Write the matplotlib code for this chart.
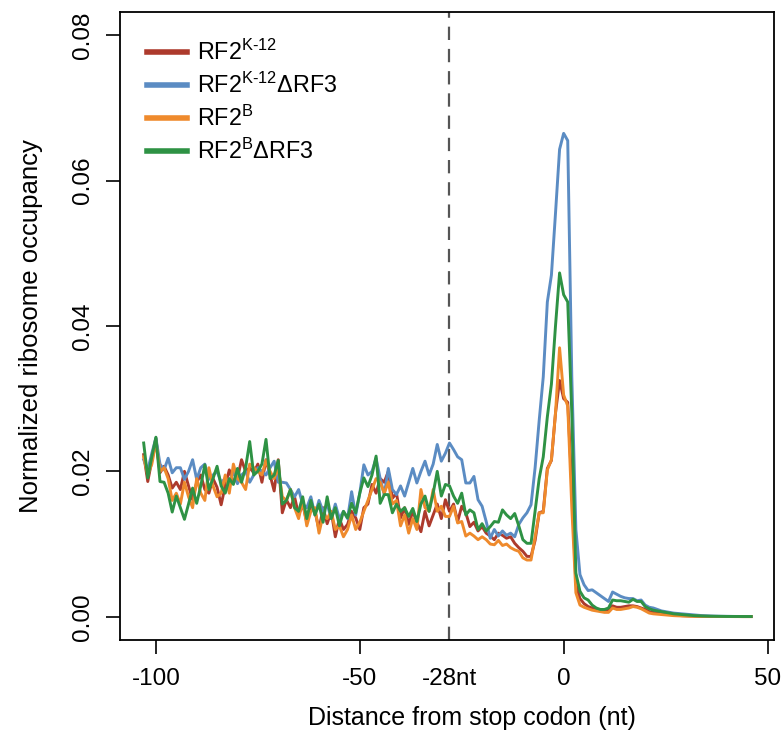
import numpy as np
import matplotlib
matplotlib.use("Agg")
import matplotlib.pyplot as plt

plt.rcParams['font.family'] = ['Liberation Sans', 'DejaVu Sans']
plt.rcParams['mathtext.fontset'] = 'custom'
plt.rcParams['mathtext.rm'] = 'Liberation Sans'
plt.rcParams['axes.unicode_minus'] = False

# position relative to stop codon (nt)
pos = np.arange(-103, 47)

# normalized ribosome occupancy, in units of 1e-3
rf2_k12 = [
    22.3, 18.6, 21.5, 24.5, 19.8, 20.7, 19.5, 17.7, 18.5, 17.5,
    20.0, 18.0, 16.1, 18.5, 19.5, 17.5, 17.0, 19.0, 17.8, 15.4,
    18.0, 20.2, 18.5, 19.0, 21.6, 20.0, 20.5, 19.8, 21.0, 18.5,
    21.6, 19.5, 17.3, 21.6, 14.3, 16.1, 15.0, 16.5, 14.0, 15.5,
    13.0, 15.5, 14.5, 12.0, 15.0, 12.8, 14.5, 11.0, 13.5, 12.0,
    12.7, 14.5, 13.6, 12.0, 15.0, 15.5, 18.2, 17.0, 19.0, 18.5,
    20.0, 16.3, 17.0, 13.6, 15.0, 12.7, 14.5, 13.0, 11.7, 14.5,
    12.5, 14.0, 15.5, 13.5, 16.1, 14.5, 15.5, 13.1, 15.2, 14.3,
    12.4, 13.0, 11.8, 12.4, 11.5, 11.1, 10.6, 11.5, 11.2, 10.8,
    11.0, 10.1, 9.5, 9.0, 8.3, 8.3, 10.5, 14.3, 14.5, 20.4,
    21.5, 28.0, 32.5, 30.0, 29.5, 18.0, 4.5, 2.5, 1.8, 1.4,
    1.2, 1.0, 0.9, 0.9, 0.9, 1.5, 1.3, 1.3, 1.4, 1.5,
    1.5, 1.4, 1.2, 1.0, 0.7, 0.6, 0.5, 0.4, 0.35, 0.3,
    0.25, 0.2, 0.15, 0.12, 0.1, 0.08, 0.07, 0.06, 0.05, 0.05,
    0.04, 0.04, 0.03, 0.03, 0.03, 0.03, 0.02, 0.02, 0.02, 0.02,
]
rf2_k12_drf3 = [
    21.6, 20.2, 22.5, 24.6, 21.0, 20.2, 21.8, 19.8, 20.5, 20.5,
    18.9, 20.0, 21.6, 18.9, 20.5, 21.0, 18.9, 19.5, 20.0, 18.5,
    19.0, 18.5, 20.0, 18.3, 19.5, 20.0, 18.5, 19.5, 20.5, 20.0,
    19.5, 20.5, 21.4, 18.5, 18.5, 18.4, 17.5, 16.5, 17.5, 15.5,
    15.0, 16.5, 14.0, 16.0, 14.5, 15.5, 13.5, 15.5, 13.5, 14.5,
    13.5, 17.2, 14.0, 17.0, 20.9, 19.5, 20.0, 21.8, 19.0, 16.8,
    20.4, 17.5, 16.8, 18.0, 16.6, 18.5, 20.4, 18.4, 20.0, 21.4,
    19.5, 21.0, 23.7, 21.4, 22.5, 23.9, 23.0, 22.0, 21.6, 18.4,
    18.4, 19.3, 16.1, 15.2, 13.1, 10.8, 12.0, 11.1, 11.8, 11.2,
    11.5, 11.0, 12.7, 13.6, 14.3, 15.4, 20.5, 27.0, 33.0, 43.3,
    47.0, 55.5, 64.3, 66.5, 65.5, 33.0, 12.0, 5.8, 4.4, 3.6,
    3.7, 3.3, 2.9, 2.5, 2.1, 3.4, 3.1, 2.8, 2.6, 2.5,
    2.5, 2.2, 2.3, 1.6, 1.3, 1.2, 1.0, 0.8, 0.7, 0.6,
    0.5, 0.45, 0.4, 0.35, 0.3, 0.25, 0.2, 0.15, 0.12, 0.1,
    0.08, 0.07, 0.06, 0.05, 0.05, 0.04, 0.04, 0.03, 0.03, 0.03,
]
rf2_b = [
    22.0, 19.5, 21.0, 24.0, 20.0, 20.5, 19.0, 16.0, 17.0, 15.5,
    18.5, 16.5, 15.0, 19.0, 17.0, 16.0, 20.5, 18.0, 16.5, 17.0,
    19.5, 17.0, 21.0, 19.0, 18.5, 17.5, 21.0, 20.5, 20.0, 19.5,
    21.5, 20.0, 19.0, 20.5, 16.5, 16.0, 17.5, 15.0, 13.5, 16.0,
    12.5, 14.5, 15.0, 11.5, 14.0, 13.5, 14.5, 12.0, 12.5, 11.0,
    12.0, 14.0, 12.0, 13.0, 14.5, 16.0, 17.5, 19.0, 18.5, 17.0,
    18.5, 15.5, 16.0, 12.5, 14.0, 11.5, 13.5, 12.0, 17.5, 15.0,
    14.5, 17.5, 14.5, 15.2, 13.8, 13.8, 15.2, 12.9, 13.1, 11.1,
    11.5, 11.1, 10.6, 11.0, 10.6, 10.0, 9.9, 10.5, 9.8, 10.0,
    9.5, 9.2, 9.0, 8.1, 7.8, 7.8, 11.0, 14.3, 14.3, 20.2,
    21.6, 28.0, 37.0, 30.5, 29.0, 15.0, 3.3, 1.6, 1.3, 1.1,
    0.9, 0.8, 0.7, 0.6, 0.6, 1.2, 1.0, 1.0, 1.1, 1.2,
    1.4, 1.3, 1.1, 0.8, 0.5, 0.4, 0.35, 0.3, 0.25, 0.2,
    0.15, 0.12, 0.1, 0.08, 0.07, 0.06, 0.05, 0.05, 0.04, 0.04,
    0.03, 0.03, 0.03, 0.03, 0.02, 0.02, 0.02, 0.02, 0.02, 0.02,
]
rf2_b_drf3 = [
    23.9, 19.1, 22.0, 24.7, 18.6, 18.5, 17.0, 14.4, 16.6, 15.0,
    13.4, 15.5, 17.7, 15.6, 18.0, 20.9, 17.5, 19.0, 20.7, 18.0,
    17.0, 19.0, 18.2, 20.4, 18.5, 20.5, 24.1, 19.5, 20.0, 21.0,
    24.4, 19.0, 19.5, 21.5, 15.5, 16.0, 17.5, 15.0, 14.5, 16.5,
    13.5, 16.0, 14.0, 15.5, 13.0, 16.5, 13.5, 15.0, 12.5, 14.5,
    13.6, 15.6, 14.3, 17.0, 19.1, 17.9, 19.5, 22.1, 15.6, 16.8,
    16.8, 14.3, 15.5, 14.5, 15.0, 13.8, 14.9, 13.1, 15.5, 16.6,
    14.5, 17.0, 20.0, 16.6, 18.2, 18.0, 16.6, 15.6, 17.0, 14.0,
    14.7, 14.3, 12.0, 12.8, 11.8, 12.4, 13.1, 13.0, 14.7, 14.0,
    13.5, 14.2, 12.5, 10.6, 10.1, 10.1, 14.5, 19.0, 22.0, 27.5,
    32.0, 40.0, 47.3, 44.3, 43.3, 28.0, 6.0, 3.5, 2.6, 2.3,
    1.6, 1.2, 1.0, 1.0, 1.2, 2.3, 2.2, 2.2, 2.1, 2.0,
    2.4, 2.1, 2.1, 1.4, 1.1, 0.9, 0.8, 0.7, 0.6, 0.5,
    0.4, 0.35, 0.3, 0.25, 0.2, 0.15, 0.12, 0.1, 0.08, 0.07,
    0.06, 0.05, 0.05, 0.04, 0.04, 0.03, 0.03, 0.03, 0.03, 0.03,
]

labels = [r'RF2$^{\mathrm{K\text{-}12}}$', r'RF2$^{\mathrm{K\text{-}12}}$ΔRF3',
          r'RF2$^{\mathrm{B}}$', r'RF2$^{\mathrm{B}}$ΔRF3']
colors = ['#AD3A2C', '#5B8CC3', '#EF8A2C', '#2E9244']
series = [rf2_k12, rf2_k12_drf3, rf2_b, rf2_b_drf3]

fs = 17.5

fig = plt.figure(figsize=(7.84, 7.38), dpi=100)
ax = fig.add_axes([0.1531, 0.1328, 0.8342, 0.851])

for vals, lab, c in zip(series, labels, colors):
    ax.plot(pos, np.array(vals) / 1000, color=c, lw=2.1, label=lab)

ax.axvline(-28, color='#555555', lw=1.6, ls=(0, (6, 4)), zorder=0)

ax.set_xlim(-108.8, 51.6)
ax.set_ylim(-0.0032, 0.0832)
ax.set_xticks([-100, -50, 0, 50])
ax.set_yticks([0, 0.02, 0.04, 0.06, 0.08])
ax.set_yticklabels(['0.00', '0.02', '0.04', '0.06', '0.08'], rotation=90, va='center')
ax.tick_params(axis='both', length=10, width=1.2, labelsize=fs, direction='out')
ax.tick_params(axis='x', pad=10)
ax.tick_params(axis='y', pad=9)
for s in ax.spines.values():
    s.set_linewidth(1.3)

ax.annotate('-28nt', xy=(-28, 0), xycoords=('data', 'axes fraction'),
            xytext=(0, -20), textcoords='offset points',
            ha='center', va='top', fontsize=fs)

ax.set_xlabel('Distance from stop codon (nt)', fontsize=18)
ax.set_ylabel('Normalized ribosome occupancy', fontsize=18.5)
ax.xaxis.set_label_coords(0.538, -0.105)
ax.yaxis.set_label_coords(-0.118, 0.5)

ax.legend(loc='upper left', frameon=False, fontsize=16.8, handlelength=1.75,
          handletextpad=0.4, labelspacing=0.33, borderaxespad=0.4,
          bbox_to_anchor=(0.012, 0.985))
leg = ax.get_legend()
for ln in leg.get_lines():
    ln.set_linewidth(4)

fig.savefig('out.png', dpi=100)
